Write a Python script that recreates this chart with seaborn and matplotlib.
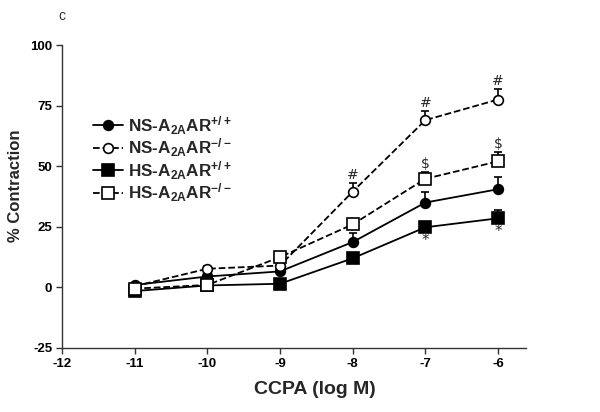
import numpy as np
import pandas as pd
import matplotlib
matplotlib.use("Agg")
import matplotlib.pyplot as plt
import seaborn as sns

conc = [-11, -10, -9, -8, -7, -6]

ns_wt = [1.0, 4.5, 6.6, 18.7, 35.0, 40.5]
ns_wt_err = [0.8, 2.5, 1.5, 3.7, 4.4, 5.2]
ns_ko = [0.5, 7.7, 9.0, 39.5, 69.0, 77.5]
ns_ko_err = [0.5, 1.0, 1.0, 3.5, 3.8, 4.3]
hs_wt = [-1.5, 0.8, 1.5, 12.0, 24.8, 28.5]
hs_wt_err = [0.5, 1.0, 1.0, 1.0, 2.3, 3.4]
hs_ko = [-0.5, 1.0, 12.5, 26.0, 44.8, 52.0]
hs_ko_err = [0.5, 0.5, 1.0, 2.3, 3.0, 4.0]

labels = [r"NS-A$_{2A}$AR$^{+/+}$", r"NS-A$_{2A}$AR$^{-/-}$",
          r"HS-A$_{2A}$AR$^{+/+}$", r"HS-A$_{2A}$AR$^{-/-}$"]

x_ticks = [-12, -11, -10, -9, -8, -7, -6]
y_ticks = [-25, 0, 25, 50, 75, 100]

hash_idx = [3, 4, 5]
dollar_idx = [4, 5]
star_idx = [4, 5]

sns.set_style("ticks")
plt.rcParams['font.family'] = ['Liberation Sans', 'DejaVu Sans']
plt.rcParams['mathtext.fontset'] = 'custom'
plt.rcParams['mathtext.rm'] = 'Liberation Sans:bold'
plt.rcParams['mathtext.bf'] = 'Liberation Sans:bold'
plt.rcParams['mathtext.default'] = 'bf'

fig = plt.figure(figsize=(6, 4.12), dpi=100)
ax = fig.add_axes([62/600, 1-348/412, (526-62)/600, (348-45)/412])

series = [
    (ns_wt, ns_wt_err, 'o', 'black', '-', 7),
    (ns_ko, ns_ko_err, 'o', 'white', '--', 7),
    (hs_wt, hs_wt_err, 's', 'black', '-', 8.5),
    (hs_ko, hs_ko_err, 's', 'white', '--', 8.5),
]

for (vals, err, mk, fc, ls, ms), lab in zip(series, labels):
    ax.errorbar(conc, vals, yerr=[np.zeros(len(err)), err], fmt='none',
                ecolor='black', elinewidth=1.2, capsize=3.2, capthick=1.2, zorder=2)
    sns.lineplot(x=conc, y=vals, ax=ax, color='black', linestyle=ls,
                 linewidth=1.3, marker=mk, markersize=ms, markerfacecolor=fc,
                 markeredgecolor='black', markeredgewidth=1.2, label=lab, zorder=3)

for i in hash_idx:
    ax.text(conc[i], ns_ko[i] + ns_ko_err[i] + 0.3, '#', ha='center', va='bottom',
            fontsize=10, family='DejaVu Sans')
for i in dollar_idx:
    ax.text(conc[i], hs_ko[i] + hs_ko_err[i] + 0.3, r'\$', ha='center', va='bottom',
            fontsize=10, family='DejaVu Sans')
for i in star_idx:
    ax.text(conc[i], hs_wt[i] - 2.2, '*', ha='center', va='top',
            fontsize=11, family='DejaVu Sans')

ax.set_xlim(-12, -5.615)
ax.set_ylim(-25, 100)
ax.set_xticks(x_ticks)
ax.set_yticks(y_ticks)
ax.set_xticklabels([str(t) for t in x_ticks], fontsize=9.5, fontweight='bold')
ax.set_yticklabels([str(t) for t in y_ticks], fontsize=9.5, fontweight='bold')
ax.tick_params(direction='out', length=4, width=1, colors='#333333', labelcolor='black', pad=3)
for s in ['top', 'right']:
    ax.spines[s].set_visible(False)
for s in ['left', 'bottom']:
    ax.spines[s].set_linewidth(1)
    ax.spines[s].set_color('#333333')

ax.set_xlabel('CCPA (log M)', fontsize=14, fontweight='bold')
ax.xaxis.set_label_coords(0.546, -0.11)
ax.set_ylabel('% Contraction', fontsize=12, fontweight='bold')
ax.yaxis.set_label_coords(-0.083, 0.535)

leg = ax.legend(loc='upper left', bbox_to_anchor=(0.053, 0.795), frameon=False,
                fontsize=12.3, handlelength=1.75, handletextpad=0.3, labelspacing=0.0,
                borderaxespad=0)
for t in leg.get_texts():
    t.set_fontweight('bold')

fig.text(58/600, 1-16/412, 'c', fontsize=10, color='#333333', va='center')

fig.savefig('out.png', dpi=100)
